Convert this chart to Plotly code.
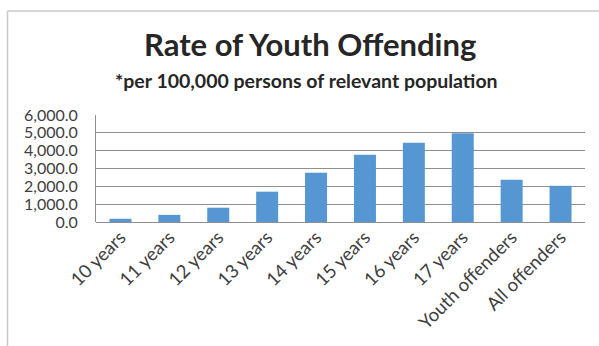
import plotly.graph_objects as go

categories = ["10 years", "11 years", "12 years", "13 years", "14 years",
              "15 years", "16 years", "17 years", "Youth offenders", "All offenders"]
rates = [180, 400, 800, 1700, 2760, 3770, 4450, 4970, 2370, 2030]
y_ticks = [0, 1000, 2000, 3000, 4000, 5000, 6000]
y_tick_labels = ["0.0", "1,000.0", "2,000.0", "3,000.0", "4,000.0", "5,000.0", "6,000.0"]

W, H = 599, 346
ml, mr, mt, mb = 96, 14, 115, 124
pw, ph = W - ml - mr, H - mt - mb

def px(x):
    return (x - ml) / pw

def py(y):
    return (H - mb - y) / ph

fig = go.Figure(go.Bar(
    x=categories, y=rates,
    marker=dict(color="#5596d3", line=dict(width=0)),
    width=0.45,
))

font_main = "Lato, 'Open Sans', sans-serif"
fig.update_layout(
    width=W, height=H,
    margin=dict(l=ml, r=mr, t=mt, b=mb),
    paper_bgcolor="white", plot_bgcolor="white",
    showlegend=False,
    font=dict(family=font_main, color="#404040"),
    xaxis=dict(tickangle=-45, tickfont=dict(size=18.5, color="#404040"),
               showline=False, showgrid=False, ticks=""),
    yaxis=dict(range=[0, 6000], tickvals=y_ticks, ticktext=y_tick_labels,
               tickfont=dict(size=16, color="#404040"),
               showgrid=True, gridcolor="#8f8f8f", gridwidth=1,
               zeroline=True, zerolinecolor="#8f8f8f", zerolinewidth=1,
               showline=True, linecolor="#8f8f8f", linewidth=1, ticks="",
               ticklabelstandoff=14),
    annotations=[
        dict(text="<b>Rate of Youth Offending</b>", x=px(310), y=py(44),
             xref="paper", yref="paper", showarrow=False,
             xanchor="center", yanchor="middle",
             font=dict(size=31, color="#262626", family=font_main)),
        dict(text="<b>*per 100,000 persons of relevant population</b>", x=px(306), y=py(80),
             xref="paper", yref="paper", showarrow=False,
             xanchor="center", yanchor="middle",
             font=dict(size=19.5, color="#262626", family=font_main)),
    ],
    shapes=[
        dict(type="line", xref="paper", yref="paper", x0=px(7.5), x1=px(7.5),
             y0=py(11), y1=py(400), line=dict(color="#c8c8c8", width=1.5)),
        dict(type="line", xref="paper", yref="paper", x0=px(7.5), x1=px(640),
             y0=py(11), y1=py(11), line=dict(color="#c8c8c8", width=1.5)),
    ],
)

fig.write_html("out.html")
